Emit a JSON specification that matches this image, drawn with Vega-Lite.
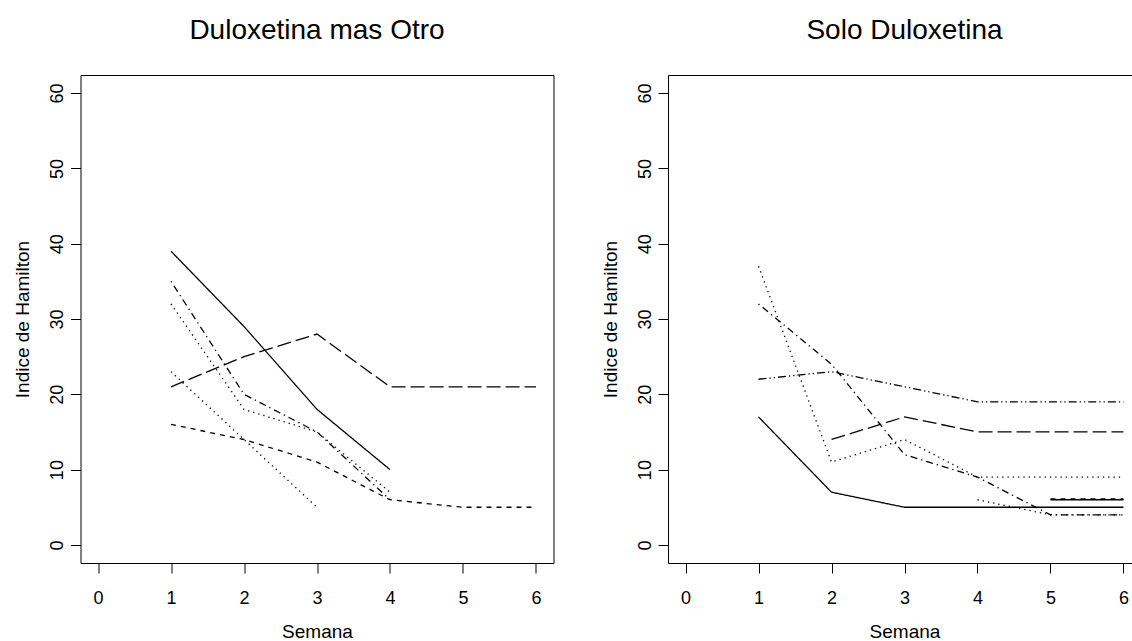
{
  "$schema": "https://vega.github.io/schema/vega-lite/v6.json",
  "autosize": {"type": "none"},
  "padding": {"left": 80.5, "top": 75, "right": 1051.5, "bottom": 566},
  "background": "white",
  "spacing": 114.5,
  "bounds": "flush",
  "config": {
    "font": "Liberation Sans",
    "view": {"stroke": "black", "strokeWidth": 1},
    "axis": {
      "domain": false, "grid": false, "ticks": true, "tickColor": "black", "tickWidth": 1, "tickSize": 10,
      "labelColor": "black", "labelFontSize": 18, "labelFont": "Liberation Sans",
      "titleColor": "black", "titleFontSize": 19, "titleFontWeight": "normal", "titleFont": "Liberation Sans"
    },
    "title": {"fontSize": 28, "fontWeight": "normal", "color": "black", "font": "Liberation Sans", "baseline": "alphabetic", "offset": 30}
  },
  "datasets": {
    "left": [
      {"id": "L1", "lty": "solid", "semana": 1, "hamilton": 39},
      {"id": "L1", "lty": "solid", "semana": 2, "hamilton": 29},
      {"id": "L1", "lty": "solid", "semana": 3, "hamilton": 18},
      {"id": "L1", "lty": "solid", "semana": 4, "hamilton": 10},
      {"id": "L2", "lty": "longdash", "semana": 1, "hamilton": 21},
      {"id": "L2", "lty": "longdash", "semana": 2, "hamilton": 25},
      {"id": "L2", "lty": "longdash", "semana": 3, "hamilton": 28},
      {"id": "L2", "lty": "longdash", "semana": 4, "hamilton": 21},
      {"id": "L2", "lty": "longdash", "semana": 5, "hamilton": 21},
      {"id": "L2", "lty": "longdash", "semana": 6, "hamilton": 21},
      {"id": "L3", "lty": "dashed", "semana": 1, "hamilton": 16},
      {"id": "L3", "lty": "dashed", "semana": 2, "hamilton": 14},
      {"id": "L3", "lty": "dashed", "semana": 3, "hamilton": 11},
      {"id": "L3", "lty": "dashed", "semana": 4, "hamilton": 6},
      {"id": "L3", "lty": "dashed", "semana": 5, "hamilton": 5},
      {"id": "L3", "lty": "dashed", "semana": 6, "hamilton": 5},
      {"id": "L4", "lty": "dotted", "semana": 1, "hamilton": 23},
      {"id": "L4", "lty": "dotted", "semana": 2, "hamilton": 14},
      {"id": "L4", "lty": "dotted", "semana": 3, "hamilton": 5},
      {"id": "L5", "lty": "dotdash", "semana": 1, "hamilton": 35},
      {"id": "L5", "lty": "dotdash", "semana": 2, "hamilton": 20},
      {"id": "L5", "lty": "dotdash", "semana": 3, "hamilton": 15},
      {"id": "L5", "lty": "dotdash", "semana": 4, "hamilton": 6},
      {"id": "L6", "lty": "dotted", "semana": 1, "hamilton": 32},
      {"id": "L6", "lty": "dotted", "semana": 2, "hamilton": 18},
      {"id": "L6", "lty": "dotted", "semana": 3, "hamilton": 15},
      {"id": "L6", "lty": "dotted", "semana": 4, "hamilton": 7}
    ],
    "right": [
      {"id": "R1", "lty": "solid", "semana": 1, "hamilton": 17},
      {"id": "R1", "lty": "solid", "semana": 2, "hamilton": 7},
      {"id": "R1", "lty": "solid", "semana": 3, "hamilton": 5},
      {"id": "R1", "lty": "solid", "semana": 4, "hamilton": 5},
      {"id": "R1", "lty": "solid", "semana": 5, "hamilton": 5},
      {"id": "R1", "lty": "solid", "semana": 6, "hamilton": 5},
      {"id": "R2", "lty": "dotted", "semana": 1, "hamilton": 37},
      {"id": "R2", "lty": "dotted", "semana": 2, "hamilton": 11},
      {"id": "R2", "lty": "dotted", "semana": 3, "hamilton": 14},
      {"id": "R2", "lty": "dotted", "semana": 4, "hamilton": 9},
      {"id": "R2", "lty": "dotted", "semana": 5, "hamilton": 9},
      {"id": "R2", "lty": "dotted", "semana": 6, "hamilton": 9},
      {"id": "R3", "lty": "dotdash", "semana": 1, "hamilton": 32},
      {"id": "R3", "lty": "dotdash", "semana": 2, "hamilton": 24},
      {"id": "R3", "lty": "dotdash", "semana": 3, "hamilton": 12},
      {"id": "R3", "lty": "dotdash", "semana": 4, "hamilton": 9},
      {"id": "R3", "lty": "dotdash", "semana": 5, "hamilton": 4},
      {"id": "R3", "lty": "dotdash", "semana": 6, "hamilton": 4},
      {"id": "R4", "lty": "twodash", "semana": 1, "hamilton": 22},
      {"id": "R4", "lty": "twodash", "semana": 2, "hamilton": 23},
      {"id": "R4", "lty": "twodash", "semana": 3, "hamilton": 21},
      {"id": "R4", "lty": "twodash", "semana": 4, "hamilton": 19},
      {"id": "R4", "lty": "twodash", "semana": 5, "hamilton": 19},
      {"id": "R4", "lty": "twodash", "semana": 6, "hamilton": 19},
      {"id": "R5", "lty": "longdash", "semana": 2, "hamilton": 14},
      {"id": "R5", "lty": "longdash", "semana": 3, "hamilton": 17},
      {"id": "R5", "lty": "longdash", "semana": 4, "hamilton": 15},
      {"id": "R5", "lty": "longdash", "semana": 5, "hamilton": 15},
      {"id": "R5", "lty": "longdash", "semana": 6, "hamilton": 15},
      {"id": "R6", "lty": "dotted", "semana": 4, "hamilton": 6},
      {"id": "R6", "lty": "dotted", "semana": 5, "hamilton": 4},
      {"id": "R6", "lty": "dotted", "semana": 6, "hamilton": 4},
      {"id": "R7", "lty": "solid", "semana": 5, "hamilton": 6},
      {"id": "R7", "lty": "solid", "semana": 6, "hamilton": 6},
      {"id": "R8", "lty": "dashed", "semana": 5, "hamilton": 6.1},
      {"id": "R8", "lty": "dashed", "semana": 6, "hamilton": 6.1}
    ]
  },
  "hconcat": [
    {
      "title": {"text": "Duloxetina mas Otro"},
      "width": 473,
      "height": 488,
      "data": {"name": "left"},
      "mark": {"type": "line", "color": "black", "strokeWidth": 1.3},
      "encoding": {
        "x": {"field": "semana", "type": "quantitative", "title": "Semana",
              "scale": {"domain": [-0.24, 6.24], "nice": false, "zero": false},
              "axis": {"values": [0, 1, 2, 3, 4, 5, 6], "labelPadding": 16, "titlePadding": 15, "labelFlush": false}},
        "y": {"field": "hamilton", "type": "quantitative", "title": "Indice de Hamilton",
              "scale": {"domain": [-2.4, 62.4], "nice": false, "zero": false},
              "axis": {"values": [0, 10, 20, 30, 40, 50, 60], "labelAngle": -90, "labelAlign": "center", "labelBaseline": "bottom", "labelPadding": 4, "titlePadding": 16, "labelFlush": false}},
        "detail": {"field": "id"},
        "strokeDash": {"field": "lty", "type": "nominal", "legend": null,
              "scale": {"domain": ["solid", "dashed", "dotted", "dotdash", "longdash", "twodash"],
                        "range": [[1, 0], [5, 5], [1.3, 4], [1.3, 4, 7, 4], [14, 5], [8, 3, 1.3, 3, 1.3, 3]]}}
      }
    },
    {
      "title": {"text": "Solo Duloxetina"},
      "width": 473,
      "height": 488,
      "data": {"name": "right"},
      "mark": {"type": "line", "color": "black", "strokeWidth": 1.3},
      "encoding": {
        "x": {"field": "semana", "type": "quantitative", "title": "Semana",
              "scale": {"domain": [-0.24, 6.24], "nice": false, "zero": false},
              "axis": {"values": [0, 1, 2, 3, 4, 5, 6], "labelPadding": 16, "titlePadding": 15, "labelFlush": false}},
        "y": {"field": "hamilton", "type": "quantitative", "title": "Indice de Hamilton",
              "scale": {"domain": [-2.4, 62.4], "nice": false, "zero": false},
              "axis": {"values": [0, 10, 20, 30, 40, 50, 60], "labelAngle": -90, "labelAlign": "center", "labelBaseline": "bottom", "labelPadding": 4, "titlePadding": 16, "labelFlush": false}},
        "detail": {"field": "id"},
        "strokeDash": {"field": "lty", "type": "nominal", "legend": null,
              "scale": {"domain": ["solid", "dashed", "dotted", "dotdash", "longdash", "twodash"],
                        "range": [[1, 0], [5, 5], [1.3, 4], [1.3, 4, 7, 4], [14, 5], [8, 3, 1.3, 3, 1.3, 3]]}}
      }
    }
  ]
}
